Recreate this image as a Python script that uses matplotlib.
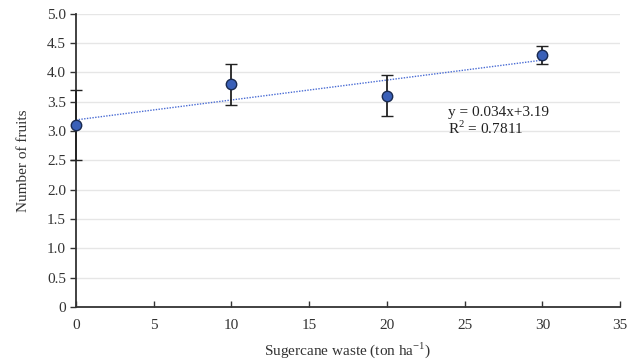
import numpy as np
import matplotlib
matplotlib.use("Agg")
import matplotlib.pyplot as plt
from matplotlib.ticker import FuncFormatter

x_vals = [0, 10, 20, 30]
y_vals = [3.1, 3.8, 3.6, 4.3]
y_err = [0.6, 0.35, 0.35, 0.15]
x_ticks = [0, 5, 10, 15, 20, 25, 30, 35]
y_ticks = [0, 0.5, 1.0, 1.5, 2.0, 2.5, 3.0, 3.5, 4.0, 4.5, 5.0]

plt.rcParams['font.family'] = ['Liberation Serif', 'DejaVu Serif']
plt.rcParams['mathtext.fontset'] = 'custom'
plt.rcParams['mathtext.rm'] = 'Liberation Serif'

fig = plt.figure(figsize=(6.27, 3.64), dpi=100)
ax = fig.add_axes([0.121, 0.157, 0.868, 0.805])

slope, intercept = np.polyfit(x_vals, y_vals, 1)
xt = np.array([min(x_vals), max(x_vals)])
ax.plot(xt, slope * xt + intercept, linestyle=(0, (1, 1)), color='#4a6cd4', linewidth=1.0, zorder=2)

ax.errorbar(x_vals, y_vals, yerr=y_err, fmt='o', color='#222222', ecolor='#222222',
            elinewidth=1.3, capsize=4, capthick=1.3, markersize=7.5,
            markerfacecolor='#3a60b8', markeredgecolor='#1a2a50', markeredgewidth=1.0, zorder=3,
            clip_on=False)

ax.text(23.9, 3.32, 'y = 0.034x+3.19', fontsize=11, color='#222222', va='center')
ax.text(23.9, 3.05, 'R$^{\\mathregular{2}}$ = 0.7811', fontsize=11, color='#222222', va='center')

ax.set_xlim(0, 35)
ax.set_ylim(0, 5.0)
ax.set_xticks(x_ticks)
ax.set_yticks(y_ticks)
ax.yaxis.set_major_formatter(FuncFormatter(lambda v, p: '0' if v == 0 else f'{v:.1f}'))
ax.grid(axis='y', color='#e6e6e6', linewidth=1.0)
ax.set_axisbelow(True)
for s in ['top', 'right']:
    ax.spines[s].set_visible(False)
for s in ['left', 'bottom']:
    ax.spines[s].set_color('#333333')
    ax.spines[s].set_linewidth(1.3)
ax.tick_params(axis='y', direction='out', length=4, width=1.0, colors='#333333', labelsize=11, pad=3)
ax.tick_params(axis='x', direction='in', length=4, width=1.0, colors='#333333', labelsize=11, pad=9)
ax.set_xlabel('Sugercane waste (ton ha$^{\\mathregular{-1}}$)', fontsize=11, color='#333333', labelpad=6)
ax.set_ylabel('Number of fruits', fontsize=11, color='#333333', labelpad=12)

fig.savefig('out.png', dpi=100)
